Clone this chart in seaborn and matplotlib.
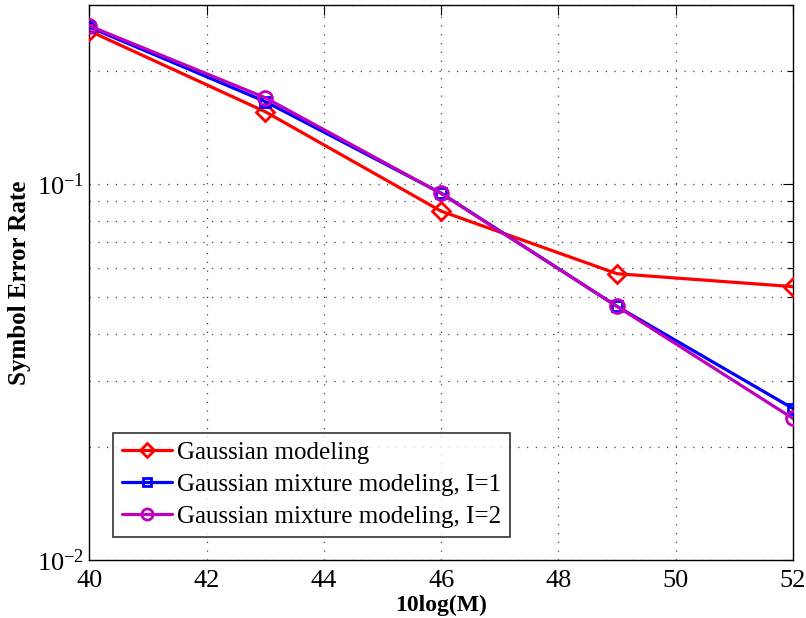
import numpy as np
import pandas as pd
import matplotlib
matplotlib.use("Agg")
import matplotlib.pyplot as plt
import seaborn as sns
from matplotlib.ticker import LogLocator, FixedLocator, NullFormatter

# Symbol error rate versus 10log(M)
snr_db = [40, 43, 46, 49, 52]
ser_gauss = [0.256, 0.156, 0.0848, 0.0578, 0.0534]
ser_gmm_i1 = [0.262, 0.166, 0.0947, 0.0473, 0.0253]
ser_gmm_i2 = [0.264, 0.170, 0.0945, 0.0473, 0.0238]

series_names = ["Gaussian modeling",
                "Gaussian mixture modeling, I=1",
                "Gaussian mixture modeling, I=2"]
x_ticks = [40, 42, 44, 46, 48, 50, 52]

df = pd.concat([
    pd.DataFrame({"x": snr_db, "ser": vals, "model": name})
    for name, vals in zip(series_names, [ser_gauss, ser_gmm_i1, ser_gmm_i2])
])

sns.set_theme(style="white")
plt.rcParams["font.family"] = ["Liberation Serif", "DejaVu Serif"]
plt.rcParams["mathtext.fontset"] = "custom"
plt.rcParams["mathtext.rm"] = "Liberation Serif"
plt.rcParams["mathtext.it"] = "Liberation Serif:italic"
for key in ["text.color", "axes.labelcolor", "xtick.color", "ytick.color"]:
    plt.rcParams[key] = "black"

fig = plt.figure(figsize=(8.06, 6.18), dpi=100)
ax = fig.add_axes([0.1108, 0.0939, 0.8731, 0.8980])

palette = {series_names[0]: "#ff0000",
           series_names[1]: "#0000ff",
           series_names[2]: "#bf00bf"}
markers = {series_names[0]: "D", series_names[1]: "s", series_names[2]: "o"}
msize = {series_names[0]: 9, series_names[1]: 7, series_names[2]: 10}

for name in series_names:
    sub = df[df["model"] == name]
    sns.lineplot(data=sub, x="x", y="ser", ax=ax, color=palette[name],
                 linewidth=2.3, marker=markers[name], markersize=msize[name],
                 markerfacecolor="none", markeredgecolor=palette[name],
                 markeredgewidth=2.0, label=name, zorder=3)

ax.set_yscale("log")
ax.set_xlim(40, 52)
ax.set_ylim(0.01, 0.3)
ax.xaxis.set_major_locator(FixedLocator(x_ticks))
ax.yaxis.set_major_locator(LogLocator(base=10, numticks=10))
ax.yaxis.set_minor_locator(LogLocator(base=10, subs=np.arange(2, 10), numticks=20))
ax.yaxis.set_minor_formatter(NullFormatter())

dots = (0, (1, 6))
ax.grid(True, which="major", axis="both", linestyle=dots,
        color="#444444", linewidth=0.9)
ax.grid(True, which="minor", axis="y", linestyle=dots,
        color="#444444", linewidth=0.9)

ax.tick_params(axis="both", which="both", direction="in", top=True, right=True,
               labelsize=19, color="black")
ax.tick_params(which="major", length=7, width=0.8)
ax.tick_params(axis="x", which="major", pad=7.5)
ax.tick_params(axis="y", which="major", pad=4)
ax.tick_params(which="minor", length=4, width=0.8)
for s in ax.spines.values():
    s.set_color("black")
    s.set_linewidth(1.0)

ax.set_xlabel("10log(M)", fontsize=17, fontweight="bold", labelpad=2)
ax.set_ylabel("Symbol Error Rate", fontsize=18, fontweight="bold", labelpad=4)

leg = ax.legend(loc="lower left", bbox_to_anchor=(0.034, 0.042), fontsize=18,
                frameon=True, fancybox=False, edgecolor="black",
                handlelength=2.0, handletextpad=0.2, borderpad=0.35,
                labelspacing=0.38, borderaxespad=0, markerscale=0.8)
leg.get_frame().set_linewidth(1.2)

fig.savefig("out.png", dpi=100)
